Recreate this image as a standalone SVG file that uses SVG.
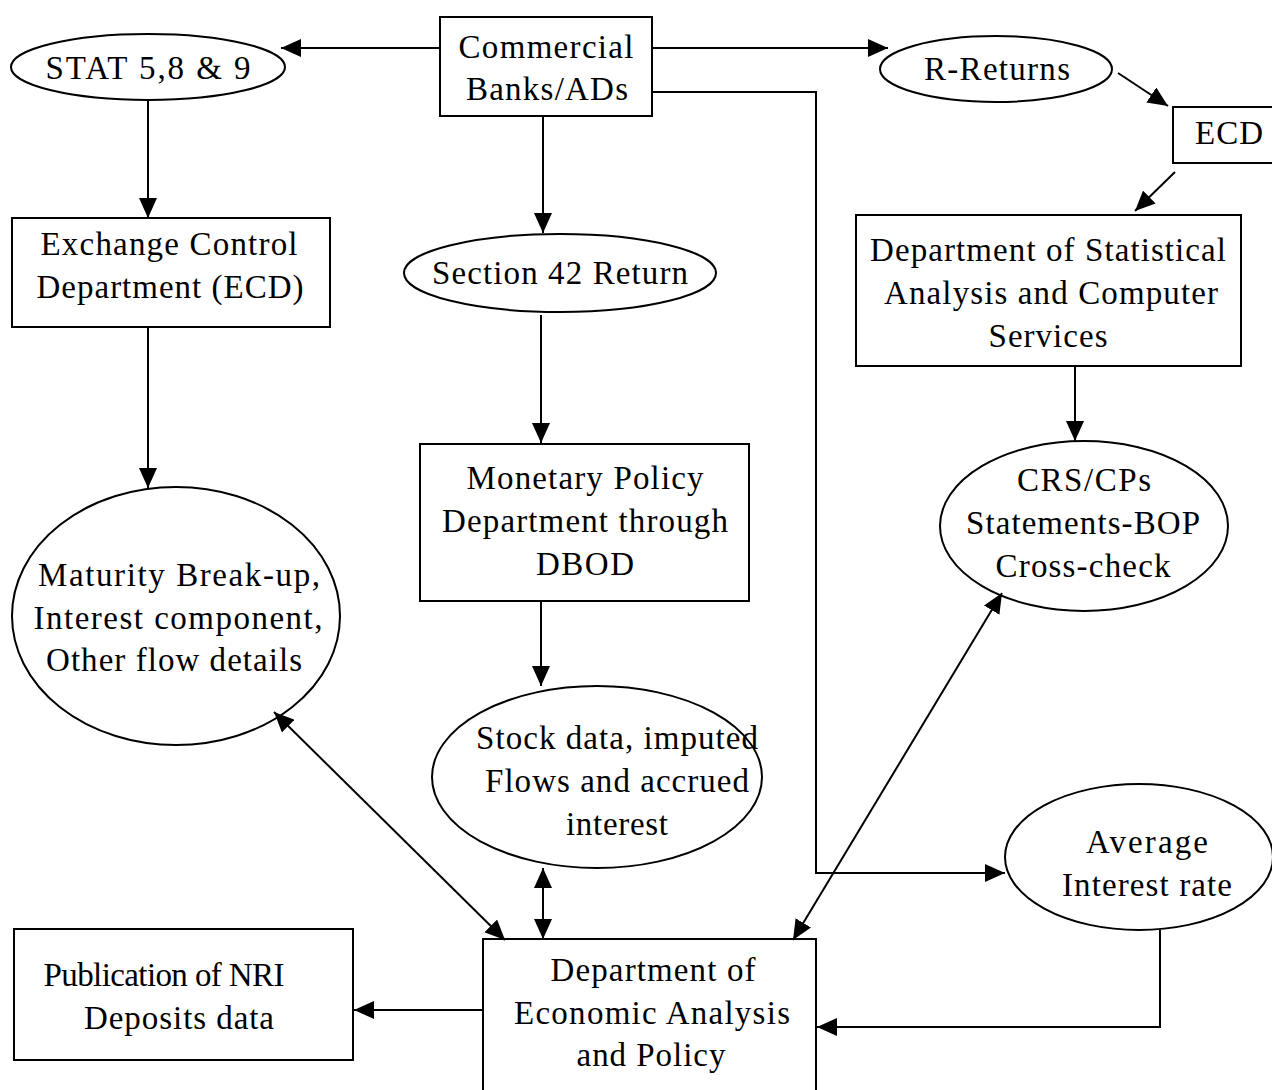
<svg xmlns="http://www.w3.org/2000/svg" width="1272" height="1090" viewBox="0 0 1272 1090">
<style>
.n{fill:#fff;stroke:#000;stroke-width:2}
.t{font-family:"Liberation Serif","Times New Roman",serif;font-size:33px;fill:#000;text-anchor:middle}
.c{fill:none;stroke:#000;stroke-width:2}
</style>
<defs>
<marker id="ah" markerUnits="userSpaceOnUse" markerWidth="22" markerHeight="18" refX="20" refY="9" orient="auto-start-reverse">
<path d="M0,0 L20,9 L0,18 Z" fill="#000"/>
</marker>
</defs>
<rect width="1272" height="1090" fill="#fff"/>
<g id="stat">
<ellipse class="n" cx="148" cy="67" rx="137" ry="33"/>
<text class="t" x="148" y="79" textLength="205">STAT 5,8 &amp; 9</text>
</g>
<g id="commercial">
<rect class="n" x="440" y="17" width="212" height="99"/>
<text class="t" x="546" y="58" textLength="175">Commercial</text>
<text class="t" x="547" y="100" textLength="162">Banks/ADs</text>
</g>
<g id="rreturns">
<ellipse class="n" cx="996" cy="69" rx="116" ry="33"/>
<text class="t" x="997" y="80" textLength="146">R-Returns</text>
</g>
<g id="ecd-small">
<rect class="n" x="1173" y="107" width="110" height="56"/>
<text class="t" x="1229" y="144" textLength="68">ECD</text>
</g>
<g id="ecd">
<rect class="n" x="12" y="218" width="318" height="109"/>
<text class="t" x="169" y="255" textLength="257">Exchange Control</text>
<text class="t" x="170" y="298" textLength="267">Department (ECD)</text>
</g>
<g id="section42">
<ellipse class="n" cx="560" cy="273" rx="156" ry="39"/>
<text class="t" x="560" y="284" textLength="256">Section 42 Return</text>
</g>
<g id="dsacs">
<rect class="n" x="856" y="215" width="385" height="151"/>
<text class="t" x="1048" y="261" textLength="356">Department of Statistical</text>
<text class="t" x="1051" y="304" textLength="334">Analysis and Computer</text>
<text class="t" x="1048" y="347" textLength="119">Services</text>
</g>
<g id="monetary">
<rect class="n" x="420" y="444" width="329" height="157"/>
<text class="t" x="585" y="489" textLength="237">Monetary Policy</text>
<text class="t" x="585" y="532" textLength="286">Department through</text>
<text class="t" x="585" y="575" textLength="98">DBOD</text>
</g>
<g id="crs">
<ellipse class="n" cx="1084" cy="526" rx="144" ry="85"/>
<text class="t" x="1084" y="491" textLength="134">CRS/CPs</text>
<text class="t" x="1083" y="534" textLength="234">Statements-BOP</text>
<text class="t" x="1083" y="577" textLength="175">Cross-check</text>
</g>
<g id="maturity">
<ellipse class="n" cx="176" cy="616" rx="164" ry="129"/>
<text class="t" x="179" y="586" textLength="282">Maturity Break-up,</text>
<text class="t" x="178" y="629" textLength="289">Interest component,</text>
<text class="t" x="174" y="671" textLength="256">Other flow details</text>
</g>
<g id="stock">
<ellipse class="n" cx="597" cy="777" rx="165" ry="91"/>
<text class="t" x="617" y="749" textLength="282">Stock data, imputed</text>
<text class="t" x="617" y="792" textLength="264">Flows and accrued</text>
<text class="t" x="617" y="835" textLength="102">interest</text>
</g>
<g id="average">
<ellipse class="n" cx="1139" cy="857" rx="134" ry="73"/>
<text class="t" x="1147" y="853" textLength="122">Average</text>
<text class="t" x="1147" y="896" textLength="170">Interest rate</text>
</g>
<g id="publication">
<rect class="n" x="14" y="929" width="339" height="131"/>
<text class="t" x="164" y="986" textLength="241">Publication of NRI</text>
<text class="t" x="179" y="1029" textLength="190">Deposits data</text>
</g>
<g id="economic">
<rect class="n" x="483" y="939" width="333" height="160"/>
<text class="t" x="653" y="981" textLength="205">Department of</text>
<text class="t" x="652" y="1024" textLength="276">Economic Analysis</text>
<text class="t" x="651" y="1066" textLength="149">and Policy</text>
</g>
<g id="connectors">
<line class="c" x1="440" y1="48" x2="281" y2="48" marker-end="url(#ah)"/>
<line class="c" x1="652" y1="48" x2="888" y2="48" marker-end="url(#ah)"/>
<line class="c" x1="1118" y1="73" x2="1168" y2="106" marker-end="url(#ah)"/>
<line class="c" x1="1175" y1="172" x2="1135" y2="211" marker-end="url(#ah)"/>
<line class="c" x1="1075" y1="366" x2="1075" y2="441" marker-end="url(#ah)"/>
<polyline class="c" points="652,92 816,92 816,873 1005,873" marker-end="url(#ah)"/>
<polyline class="c" points="1160,930 1160,1027 817,1027" marker-end="url(#ah)"/>
<line class="c" x1="483" y1="1010" x2="354" y2="1010" marker-end="url(#ah)"/>
<line class="c" x1="543" y1="868" x2="543" y2="939" marker-start="url(#ah)" marker-end="url(#ah)"/>
<line class="c" x1="541" y1="601" x2="541" y2="686" marker-end="url(#ah)"/>
<line class="c" x1="541" y1="315" x2="541" y2="443" marker-end="url(#ah)"/>
<line class="c" x1="543" y1="116" x2="543" y2="233" marker-end="url(#ah)"/>
<line class="c" x1="148" y1="101" x2="148" y2="218" marker-end="url(#ah)"/>
<line class="c" x1="148" y1="327" x2="148" y2="488" marker-end="url(#ah)"/>
<line class="c" x1="274" y1="712" x2="505" y2="940" marker-start="url(#ah)" marker-end="url(#ah)"/>
<line class="c" x1="1002" y1="593" x2="793" y2="940" marker-start="url(#ah)" marker-end="url(#ah)"/>
</g>
</svg>
